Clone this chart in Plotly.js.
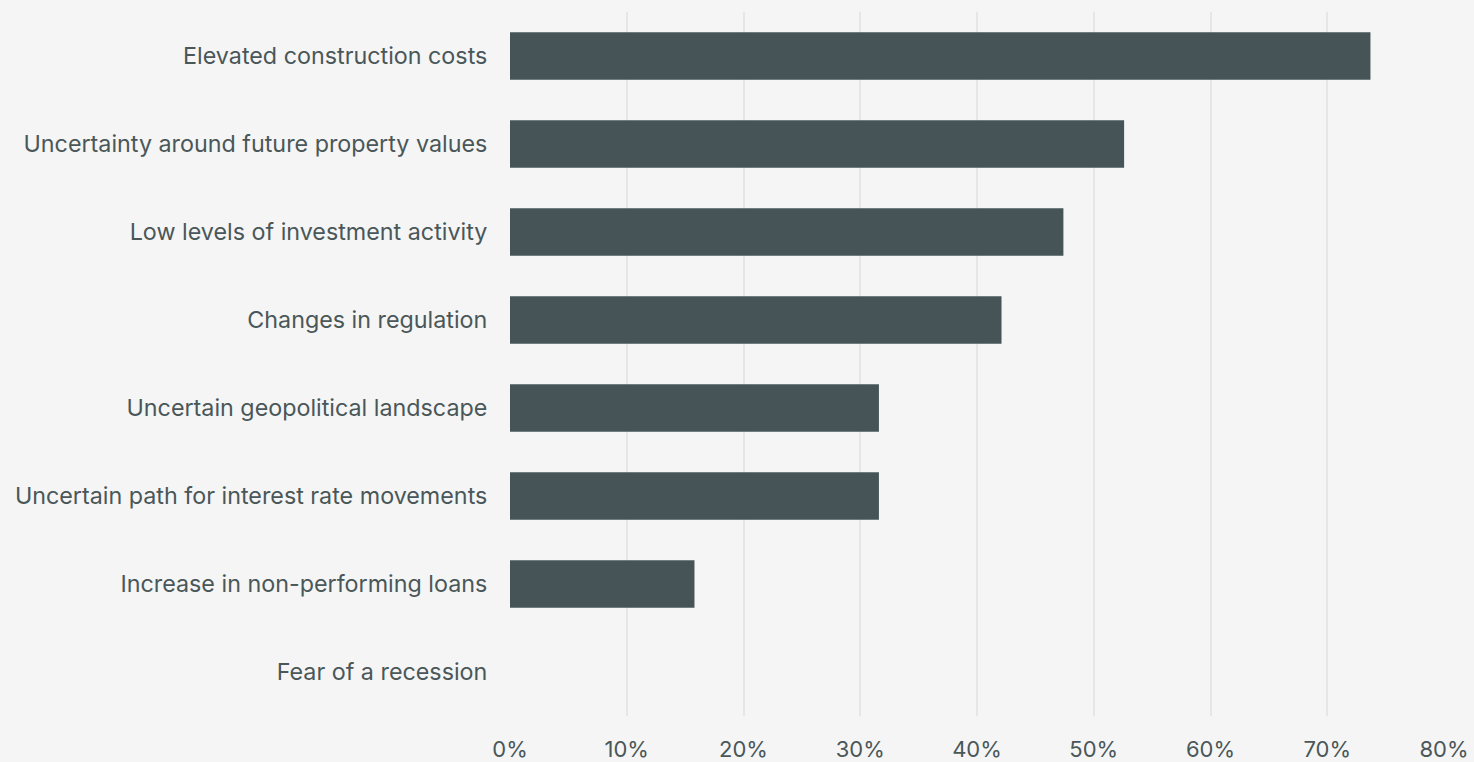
<!DOCTYPE html>
<html>
<head>
<meta charset="utf-8">
<script src="https://cdn.plot.ly/plotly-3.0.1.min.js"></script>
<style>
html,body{margin:0;padding:0;background:#f5f5f5;}
#chart{width:1474px;height:762px;}
</style>
</head>
<body>
<div id="chart"></div>
<script>
const categories = [
  "Elevated construction costs",
  "Uncertainty around future property values",
  "Low levels of investment activity",
  "Changes in regulation",
  "Uncertain geopolitical landscape",
  "Uncertain path for interest rate movements",
  "Increase in non-performing loans",
  "Fear of a recession"
];
const values = [73.7, 52.6, 47.4, 42.1, 31.6, 31.6, 15.8, 0];
const tickVals = [0, 10, 20, 30, 40, 50, 60, 70, 80];
const tickText = ["0%", "10%", "20%", "30%", "40%", "50%", "60%", "70%", "80%"];

const textColor = "#4a5759";
const fontFam = "Inter, Roboto, 'Noto Sans', sans-serif";

Plotly.newPlot("chart", [{
  type: "bar",
  orientation: "h",
  x: values,
  y: categories,
  width: 0.54,
  marker: {color: "#465457"},
  hoverinfo: "x+y"
}], {
  width: 1474,
  height: 762,
  paper_bgcolor: "#f5f5f5",
  plot_bgcolor: "#f5f5f5",
  margin: {l: 510, r: 30, t: 12, b: 46, pad: 0},
  showlegend: false,
  font: {family: fontFam, color: textColor, size: 22},
  xaxis: {
    range: [0, 80],
    tickvals: tickVals,
    ticktext: tickText,
    showgrid: true,
    gridcolor: "#e4e7e6",
    gridwidth: 2,
    zeroline: false,
    showline: false,
    ticks: "outside",
    ticklen: 14,
    tickcolor: "rgba(0,0,0,0)",
    tickfont: {size: 22, color: textColor, family: fontFam},
    fixedrange: true
  },
  yaxis: {
    autorange: "reversed",
    categoryorder: "array",
    categoryarray: categories,
    showgrid: false,
    zeroline: false,
    showline: false,
    ticks: "outside",
    ticklen: 17,
    tickcolor: "rgba(0,0,0,0)",
    tickfont: {size: 23.3, color: textColor, family: fontFam},
    fixedrange: true
  }
}, {displayModeBar: false, staticPlot: true});
</script>
</body>
</html>
